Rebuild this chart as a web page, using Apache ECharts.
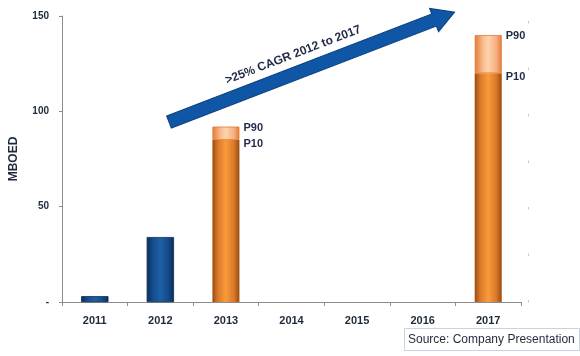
<!DOCTYPE html>
<html><head><meta charset="utf-8">
<script src="https://cdn.jsdelivr.net/npm/echarts@6/dist/echarts.min.js"></script>
<style>html,body{margin:0;padding:0;background:#fff}#c{width:580px;height:356px}</style>
</head><body><div id="c"></div>
<script>
var categories = ['2011','2012','2013','2014','2015','2016','2017'];
var actual = [3, 34, null, null, null, null, null];
var p10 = [null, null, 85, null, null, null, 120];
var p90Increment = [null, null, 7, null, null, null, 20];
var yTicks = [0, 50, 100, 150];
var arrowText = '>25% CAGR 2012 to 2017';
var sourceText = 'Source: Company Presentation';

var G = echarts.graphic;
var blueGrad = new G.LinearGradient(0,0,1,0,[
  {offset:0,color:'#082e5c'},{offset:0.25,color:'#164f8f'},{offset:0.5,color:'#1d5fa6'},
  {offset:0.75,color:'#164f8f'},{offset:1,color:'#082e5c'}]);
var orangeGrad = new G.LinearGradient(0,0,1,0,[
  {offset:0,color:'#9a4a0c'},{offset:0.2,color:'#d9782a'},{offset:0.5,color:'#fa9b3a'},
  {offset:0.8,color:'#d9782a'},{offset:1,color:'#9a4a0c'}]);
var lightGrad = new G.LinearGradient(0,0,1,0,[
  {offset:0,color:'#e07a38'},{offset:0.3,color:'#f9bb8c'},{offset:0.5,color:'#fdd3ae'},
  {offset:0.8,color:'#f6ae80'},{offset:1,color:'#e07a38'}]);

var chart = echarts.init(document.getElementById('c'));
var labelBase = {fontFamily:'Liberation Sans', fontWeight:'bold', fontSize:11, color:'#1f2a44',
  position:['100%',0], align:'left', verticalAlign:'middle'};
function lab(name, dy){
  return Object.assign({}, labelBase, {show:true, offset:[4,dy],
    formatter:function(p){return p.value==null?'':name;}});
}
chart.setOption({
  animation:false,
  grid:{left:57,right:59,top:16,bottom:54,containLabel:false},
  xAxis:{type:'category',data:categories,
    axisLine:{lineStyle:{color:'#8c8c8c',width:1}},
    axisTick:{show:true,length:4,lineStyle:{color:'#8c8c8c'}},
    axisLabel:{fontFamily:'Liberation Sans',fontWeight:'bold',fontSize:11,color:'#1f2a3a',margin:13}},
  yAxis:[{type:'value',min:0,max:150,interval:50,
    name:'MBOED',nameLocation:'middle',nameGap:42,nameRotate:90,
    nameTextStyle:{fontFamily:'Liberation Sans',fontWeight:'bold',fontSize:12,color:'#1f2a3a'},
    axisLine:{show:true,lineStyle:{color:'#8c8c8c'}},
    axisTick:{show:true,length:3,lineStyle:{color:'#8c8c8c'}},
    splitLine:{show:false},
    axisLabel:{fontFamily:'Liberation Sans',fontWeight:'bold',fontSize:10,color:'#1f2a3a',margin:13,
      formatter:function(v){return v===0?'-':String(v);}}},
    {type:'value',min:0,max:150,interval:50,position:'right',offset:7,
     axisLine:{show:true,lineStyle:{color:'#c4c4c4',type:[1.5,45]}},
     axisTick:{show:false},axisLabel:{show:false},splitLine:{show:false}}],
  series:[
    {type:'bar',name:'Actual',stack:'a',barWidth:27,data:actual,
     itemStyle:{color:blueGrad,borderColor:'#0a2c55',borderWidth:0.5}},
    {type:'bar',name:'P10',stack:'a',barWidth:27,data:p10,
     itemStyle:{color:orangeGrad},label:lab('P10',4)},
    {type:'bar',name:'P90',stack:'a',barWidth:27,data:p90Increment,
     itemStyle:{color:lightGrad,borderColor:'#e6782f',borderWidth:0.8},label:lab('P90',1)}
  ]
});

// annotation arrow and source box
var L = 306, head = 22, hw = 6.5, hh = 12.5;
var ang = Math.atan2(110, 286);
chart.setOption({graphic:[
  {type:'group',x:169,y:122,rotation:ang,children:[
    {type:'polygon',shape:{points:[[0,-hw],[L-head,-hw],[L-head,-hh],[L,0],[L-head,hh],[L-head,hw],[0,hw]]},
     style:{fill:'#0f57a6',stroke:'#0a3f7c',lineWidth:1}},
    {type:'text',x:140,y:-18,style:{text:arrowText,fontFamily:'Liberation Sans',fontWeight:'bold',fontSize:12,
      fill:'#1f2a44',align:'center',verticalAlign:'middle'}}
  ]},
  {type:'rect',shape:{x:404.5,y:328.5,width:175,height:22},style:{fill:'#fff',stroke:'#c9d2e3',lineWidth:1}},
  {type:'text',x:408,y:340,style:{text:sourceText,fontFamily:'Liberation Sans',fontSize:12,fill:'#1f2a3a',verticalAlign:'middle'}}
]});
</script></body></html>
